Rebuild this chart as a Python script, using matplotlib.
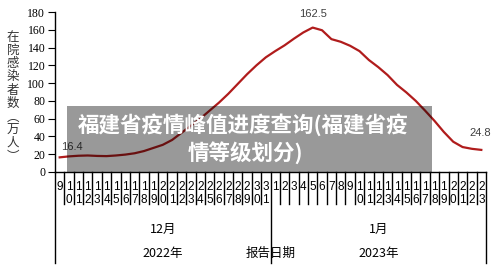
import matplotlib
matplotlib.use("Agg")
import matplotlib.pyplot as plt
from matplotlib.patches import Rectangle
from matplotlib.transforms import blended_transform_factory

# data: inpatients (10k) by report date, 2022-12-09 .. 2023-01-23
dec_days = list(range(9, 32))
jan_days = list(range(1, 24))
dec_values = [16.4, 17.5, 18.2, 18.5, 18.0, 17.8, 18.5, 19.5, 21.0, 23.5,
              27.0, 30.5, 36.0, 44.0, 52.0, 60.0, 69.0, 78.0, 88.0, 99.0,
              110.0, 120.0, 129.0]
jan_values = [136.0, 142.5, 150.0, 157.0, 162.5, 159.5, 149.5, 146.5, 142.0,
              136.0, 126.0, 118.0, 109.0, 98.0, 89.5, 80.0, 69.0, 57.5, 45.0,
              34.0, 28.0, 26.0, 24.8]
months = ["12月", "1月"]
years = ["2022年", "2023年"]
y_ticks = [0, 20, 40, 60, 80, 100, 120, 140, 160, 180]

CJK = ["Noto Sans CJK SC", "DejaVu Sans"]
LINE = "#b01c1c"

days = dec_days + jan_days
values = dec_values + jan_values
x = list(range(len(days)))

fig = plt.figure(figsize=(5, 2.8), dpi=100)
ax = fig.add_axes([0.11, 0.386, 0.862, 0.571])

ax.plot(x, values, color=LINE, lw=1.6, zorder=3)
ax.set_xlim(-0.5, len(days) - 0.5)
ax.set_ylim(0, 180)
ax.set_yticks(y_ticks)
ax.set_yticklabels([str(t) for t in y_ticks], family="Liberation Serif", fontsize=8.5)
ax.tick_params(axis="y", length=5, width=0.8, pad=2)
ax.set_xticks([])
for s in ("top", "right"):
    ax.spines[s].set_visible(False)
ax.spines["left"].set_linewidth(1.0)
ax.spines["bottom"].set_linewidth(1.0)

# data labels
lab = dict(fontsize=8, color="#404040", family="Liberation Sans",
           textcoords="offset pixels", ha="center", va="center")
ax.annotate(f"{values[0]:.1f}", (x[0], values[0]), xytext=(12, 10), **lab)
peak = values.index(max(values))
ax.annotate(f"{values[peak]:.1f}", (x[peak], values[peak]), xytext=(0, 14), **lab)
ax.annotate(f"{values[-1]:.1f}", (x[-1], values[-1]), xytext=(-1, 17), **lab)

# multi-level category axis (Excel style)
tr = blended_transform_factory(ax.transData, ax.transAxes)
y_short = -0.2
y_long = -0.57
for i in range(len(days) + 1):
    pos = i - 0.5
    long_line = i in (0, len(dec_days), len(days))
    ax.plot([pos, pos], [0, y_long if long_line else y_short], color="black",
            lw=1.0, transform=tr, clip_on=False)

for i, d in enumerate(days):
    s = str(d)
    ax.text(i, -0.094, s[0], transform=tr, ha="center", va="center",
            fontsize=8.5, family="Liberation Sans")
    if len(s) > 1:
        ax.text(i, -0.175, s[1], transform=tr, ha="center", va="center",
                fontsize=8.5, family="Liberation Sans")

groups = [(0, len(dec_days)), (len(dec_days), len(days))]
for (a, b), m, yr in zip(groups, months, years):
    cx = (a + b - 1) / 2
    ax.text(cx, -0.36, m, transform=tr, ha="center", va="center",
            fontsize=9, family=CJK)
    ax.text(cx, -0.51, yr, transform=tr, ha="center", va="center",
            fontsize=9, family=CJK)
ax.text(len(dec_days) - 0.5, -0.51, "报告日期", transform=tr, ha="center",
        va="center", fontsize=9, family=CJK)

# vertical y-axis title
ylab = "在院感染者数︵万人︶"
fig.text(0.026, 0.654, "\n".join(ylab), ha="center", va="center",
         fontsize=9, family=CJK, linespacing=1.03, color="#333333")

# overlay banner
fig.patches.append(Rectangle((0.134, 0.386), 0.73, 0.236, transform=fig.transFigure,
                             facecolor="black", alpha=0.4, edgecolor="none", zorder=5))
fig.text(0.486, 1 - 125 / 280, "福建省疫情峰值进度查询(福建省疫", ha="center", va="center",
         fontsize=15.5, color="white", weight="bold", family=CJK, zorder=6)
fig.text(0.49, 1 - 153 / 280, "情等级划分)", ha="center", va="center",
         fontsize=15.5, color="white", weight="bold", family=CJK, zorder=6)

fig.savefig("out.png", dpi=100)
